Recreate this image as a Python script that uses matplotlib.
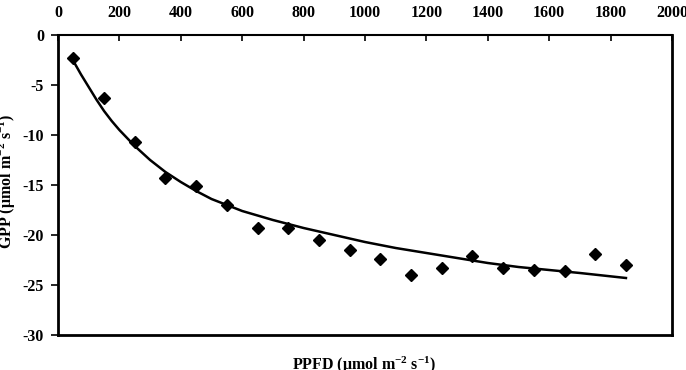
import numpy as np
import matplotlib.pyplot as plt

plt.rcParams['font.family'] = ['Liberation Serif', 'DejaVu Serif']
plt.rcParams['font.weight'] = 'bold'
plt.rcParams['axes.unicode_minus'] = False
plt.rcParams['mathtext.fontset'] = 'custom'
plt.rcParams['mathtext.rm'] = 'Liberation Serif:bold'
plt.rcParams['mathtext.it'] = 'Liberation Serif:bold'
plt.rcParams['mathtext.bf'] = 'Liberation Serif:bold'

# measured points
ppfd = [50, 150, 250, 350, 450, 550, 650, 750, 850, 950,
        1050, 1150, 1250, 1350, 1450, 1550, 1650, 1750, 1850]
gpp = [-2.3, -6.3, -10.7, -14.3, -15.1, -17.0, -19.3, -19.3, -20.5, -21.5,
       -22.4, -24.0, -23.3, -22.1, -23.3, -23.5, -23.6, -21.9, -23.0]

# fitted curve
fit_x = [50, 75, 100, 125, 150, 175, 200, 250, 300, 350, 400, 450, 500, 550,
         600, 700, 800, 900, 1000, 1100, 1200, 1300, 1400, 1500, 1600, 1700,
         1850]
fit_y = [-2.6, -3.95, -5.2, -6.45, -7.6, -8.6, -9.5, -11.1, -12.5, -13.7,
         -14.7, -15.6, -16.4, -17.0, -17.6, -18.5, -19.3, -20.0, -20.7, -21.3,
         -21.8, -22.3, -22.8, -23.2, -23.5, -23.8, -24.3]

fig = plt.figure(figsize=(6.86, 3.70), dpi=100)
ax = fig.add_axes([58/686, 35/370, (672-58)/686, 300/370])

ax.plot(fit_x, fit_y, 'k-', lw=1.8)
ax.plot(ppfd, gpp, 'kD', markersize=6.5)

ax.set_xlim(0, 2000)
ax.set_ylim(-30, 0)
ax.set_xticks(np.arange(0, 2001, 200))
ax.set_yticks(np.arange(-30, 1, 5))

ax.xaxis.tick_top()
ax.tick_params(axis='x', direction='in', length=4, width=1.2, pad=10,
               labelsize=11.5)
ax.tick_params(axis='y', direction='out', length=5, width=1.2, pad=5,
               labelsize=11.5)
for s in ax.spines.values():
    s.set_linewidth(2)
ax.spines['top'].set_linewidth(1.5)

fig.text(364/686, 0.0, r'PPFD ($\mu$mol m$^{-2}$ s$^{-1}$)',
         ha='center', va='baseline', fontsize=11.5, fontweight='bold')
fig.text(7/686, 1 - 181/370, r'GPP ($\mu$mol m$^{-2}$ s$^{-1}$)',
         ha='center', va='center', rotation=90, fontsize=11.5,
         fontweight='bold')

fig.savefig('out.png', dpi=100)
